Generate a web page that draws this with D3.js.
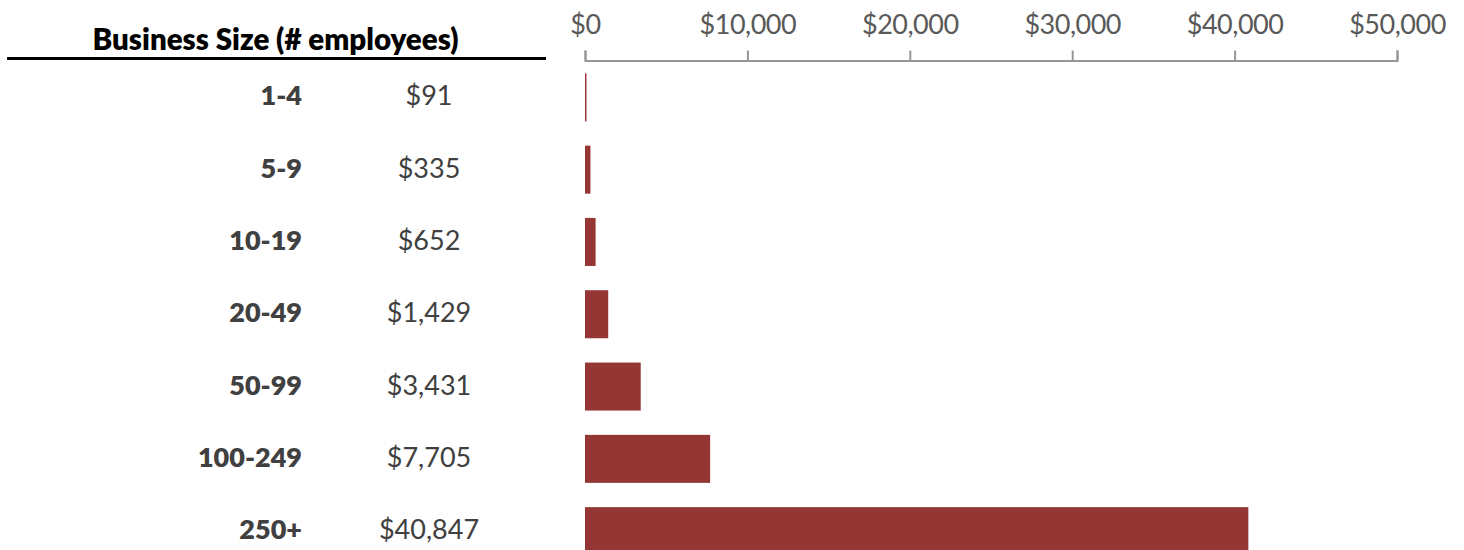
<!DOCTYPE html>
<html>
<head>
<meta charset="utf-8">
<script src="https://cdn.jsdelivr.net/npm/d3@7/dist/d3.min.js"></script>
<style>
  html, body { margin: 0; padding: 0; background: #fff; }
  svg { display: block; font-family: Lato, "Open Sans", sans-serif; }
</style>
</head>
<body>
<svg id="chart" width="1464" height="550"></svg>
<script>
const categories = ["1-4", "5-9", "10-19", "20-49", "50-99", "100-249", "250+"];
const values = [91, 335, 652, 1429, 3431, 7705, 40847];
const tickValues = [0, 10000, 20000, 30000, 40000, 50000];
const headerText = "Business Size (# employees)";

const svg = d3.select("#chart");

const x = d3.scaleLinear().domain([0, 50000]).range([585, 1397]);
const y = d3.scaleBand().domain(categories).range([61.2, 567.3]).paddingInner(0.336).paddingOuter(0.168);

const money = v => "$" + d3.format(",")(v);

// Header
svg.append("text")
  .attr("x", 275.5).attr("y", 50)
  .attr("text-anchor", "middle")
  .attr("font-size", 29.5).attr("font-weight", 800)
  .attr("fill", "#000")
  .text(headerText);
svg.append("line")
  .attr("x1", 7).attr("x2", 546)
  .attr("y1", 58.5).attr("y2", 58.5)
  .attr("stroke", "#000").attr("stroke-width", 3);

// Axis
const axis = d3.axisTop(x)
  .tickValues(tickValues)
  .tickFormat(money)
  .tickSizeInner(10).tickSizeOuter(10)
  .tickPadding(17);
const gA = svg.append("g").attr("transform", "translate(0,60.5)").call(axis);
gA.select(".domain").attr("stroke", "#969696").attr("stroke-width", 2);
gA.selectAll(".tick line").attr("stroke", "#969696").attr("stroke-width", 2);
gA.selectAll(".tick text")
  .attr("fill", "#595959")
  .attr("font-size", 27)
  .attr("font-family", "Lato, 'Open Sans', sans-serif")
  .attr("letter-spacing", -0.5);

// Bars
svg.append("g").selectAll("rect")
  .data(categories)
  .join("rect")
  .attr("x", x(0))
  .attr("y", d => y(d))
  .attr("width", (d, i) => x(values[i]) - x(0))
  .attr("height", y.bandwidth())
  .attr("fill", "#943634");

// Category labels
svg.append("g").selectAll("text")
  .data(categories)
  .join("text")
  .attr("x", 302)
  .attr("y", d => y(d) + y.bandwidth() / 2 - 1.5)
  .attr("dy", "0.35em")
  .attr("text-anchor", "end")
  .attr("font-size", 27)
  .attr("font-weight", 800)
  .attr("fill", "#404040")
  .text(d => d);

// Value labels
svg.append("g").selectAll("text")
  .data(values)
  .join("text")
  .attr("x", 429)
  .attr("y", (d, i) => y(categories[i]) + y.bandwidth() / 2 - 1.5)
  .attr("dy", "0.35em")
  .attr("text-anchor", "middle")
  .attr("font-size", 27)
  .attr("fill", "#404040")
  .text(d => money(d));
</script>
</body>
</html>
